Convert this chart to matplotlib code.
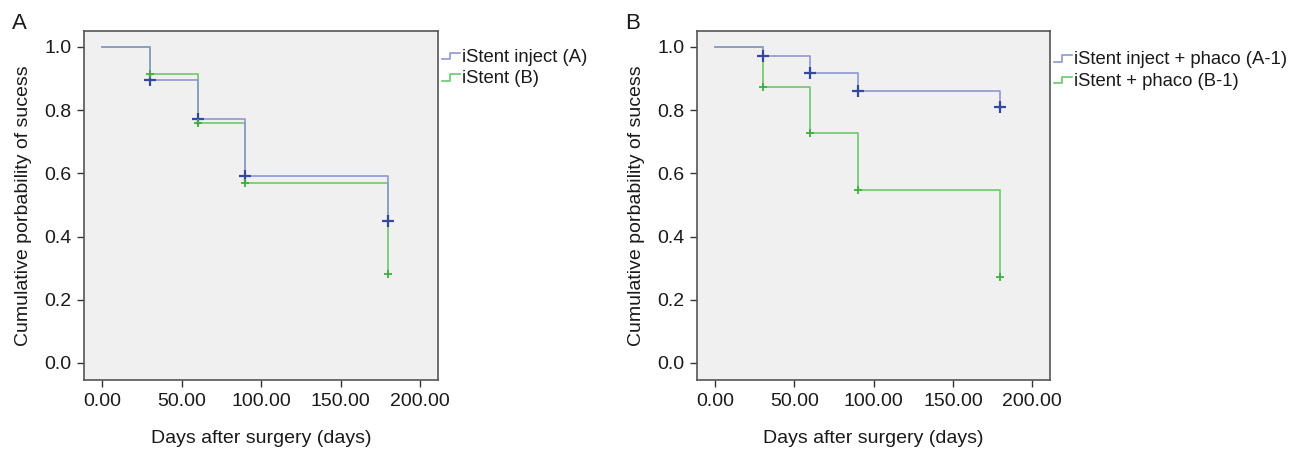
import matplotlib
matplotlib.use("Agg")
import matplotlib.pyplot as plt
from matplotlib.legend_handler import HandlerBase
from matplotlib.lines import Line2D

plt.rcParams["font.family"] = ["Liberation Sans", "DejaVu Sans"]

# dias de seguimiento
days = [0, 30, 60, 90, 180]

# Panel A
surv_inject_a = [1.0, 0.896, 0.771, 0.590, 0.449]
surv_istent_b = [1.0, 0.915, 0.760, 0.568, 0.282]
labels_a = ["iStent inject (A)", "iStent (B)"]

# Panel B
surv_inject_a1 = [1.0, 0.970, 0.916, 0.861, 0.810]
surv_istent_b1 = [1.0, 0.874, 0.729, 0.547, 0.273]
labels_b = ["iStent inject + phaco (A-1)", "iStent + phaco (B-1)"]

x_ticks = [0, 50, 100, 150, 200]
y_ticks = [0.0, 0.2, 0.4, 0.6, 0.8, 1.0]

BLUE_LINE = "#8d98cf"
BLUE_MARK = "#3548a0"
GREEN_LINE = "#6cc86c"
GREEN_MARK = "#3fae3f"
BG = "#f0f0f0"
FS = 14


class StepHandler(HandlerBase):
    """Icono de leyenda con forma de escalon, estilo SPSS."""
    def create_artists(self, legend, orig_handle, xdescent, ydescent,
                       width, height, fontsize, trans):
        w, h = width, height
        xs = [0, 0.45 * w, 0.45 * w, w]
        ys = [0.2 * h, 0.2 * h, 0.7 * h, 0.7 * h]
        line = Line2D(xs, ys, color=orig_handle.get_color(), lw=1.2, transform=trans)
        return [line]


def draw_panel(ax, s1, s2, labels, legend_y):
    ax.set_facecolor(BG)
    ax.step(days, s1, where="post", color=BLUE_LINE, lw=1.2, zorder=3)
    ax.plot(days[1:], s1[1:], ls="none", marker="+", ms=8, mew=1.6,
            color=BLUE_MARK, zorder=4)
    ax.step(days, s2, where="post", color=GREEN_LINE, lw=1.2, zorder=2)
    ax.plot(days[1:], s2[1:], ls="none", marker="+", ms=6, mew=1.3,
            color=GREEN_MARK, zorder=4)

    ax.set_xlim(-11.5, 211.3)
    ax.set_ylim(-0.054, 1.05)
    ax.set_xticks(x_ticks)
    ax.set_xticklabels([f"{v:.2f}" for v in x_ticks])
    ax.set_yticks(y_ticks)
    ax.set_yticklabels([f"{v:.1f}" for v in y_ticks])
    ax.tick_params(labelsize=FS, length=5, width=1, color="#333333",
                   labelcolor="#1a1a1a", pad=4)
    for sp in ax.spines.values():
        sp.set_color("#555555")
        sp.set_linewidth(1.2)
    ax.set_xlabel("Days after surgery (days)", fontsize=FS, labelpad=15,
                  color="#1a1a1a")
    ax.set_ylabel("Cumulative porbability of sucess", fontsize=FS, labelpad=9,
                  color="#1a1a1a")

    handles = [Line2D([], [], color=BLUE_LINE), Line2D([], [], color=GREEN_LINE)]
    ax.legend(handles, labels, loc="upper left", bbox_to_anchor=(1.005, legend_y),
              frameon=False, fontsize=13.3, handlelength=1.0, handletextpad=0.1,
              labelspacing=0.25, borderaxespad=0.0, borderpad=0.1,
              labelcolor="#1a1a1a", handler_map={Line2D: StepHandler()})


fig = plt.figure(figsize=(13, 4.53), dpi=100)
ax_a = fig.add_axes([0.0646, 0.161, 0.2723, 0.7704])
ax_b = fig.add_axes([0.5362, 0.161, 0.2715, 0.7704])

draw_panel(ax_a, surv_inject_a, surv_istent_b, labels_a, 0.955)
draw_panel(ax_b, surv_inject_a1, surv_istent_b1, labels_b, 0.947)

fig.text(0.009, 0.935, "A", fontsize=16, color="#1a1a1a")
fig.text(0.481, 0.935, "B", fontsize=16, color="#1a1a1a")

fig.savefig("out.png", dpi=100, facecolor="white")
